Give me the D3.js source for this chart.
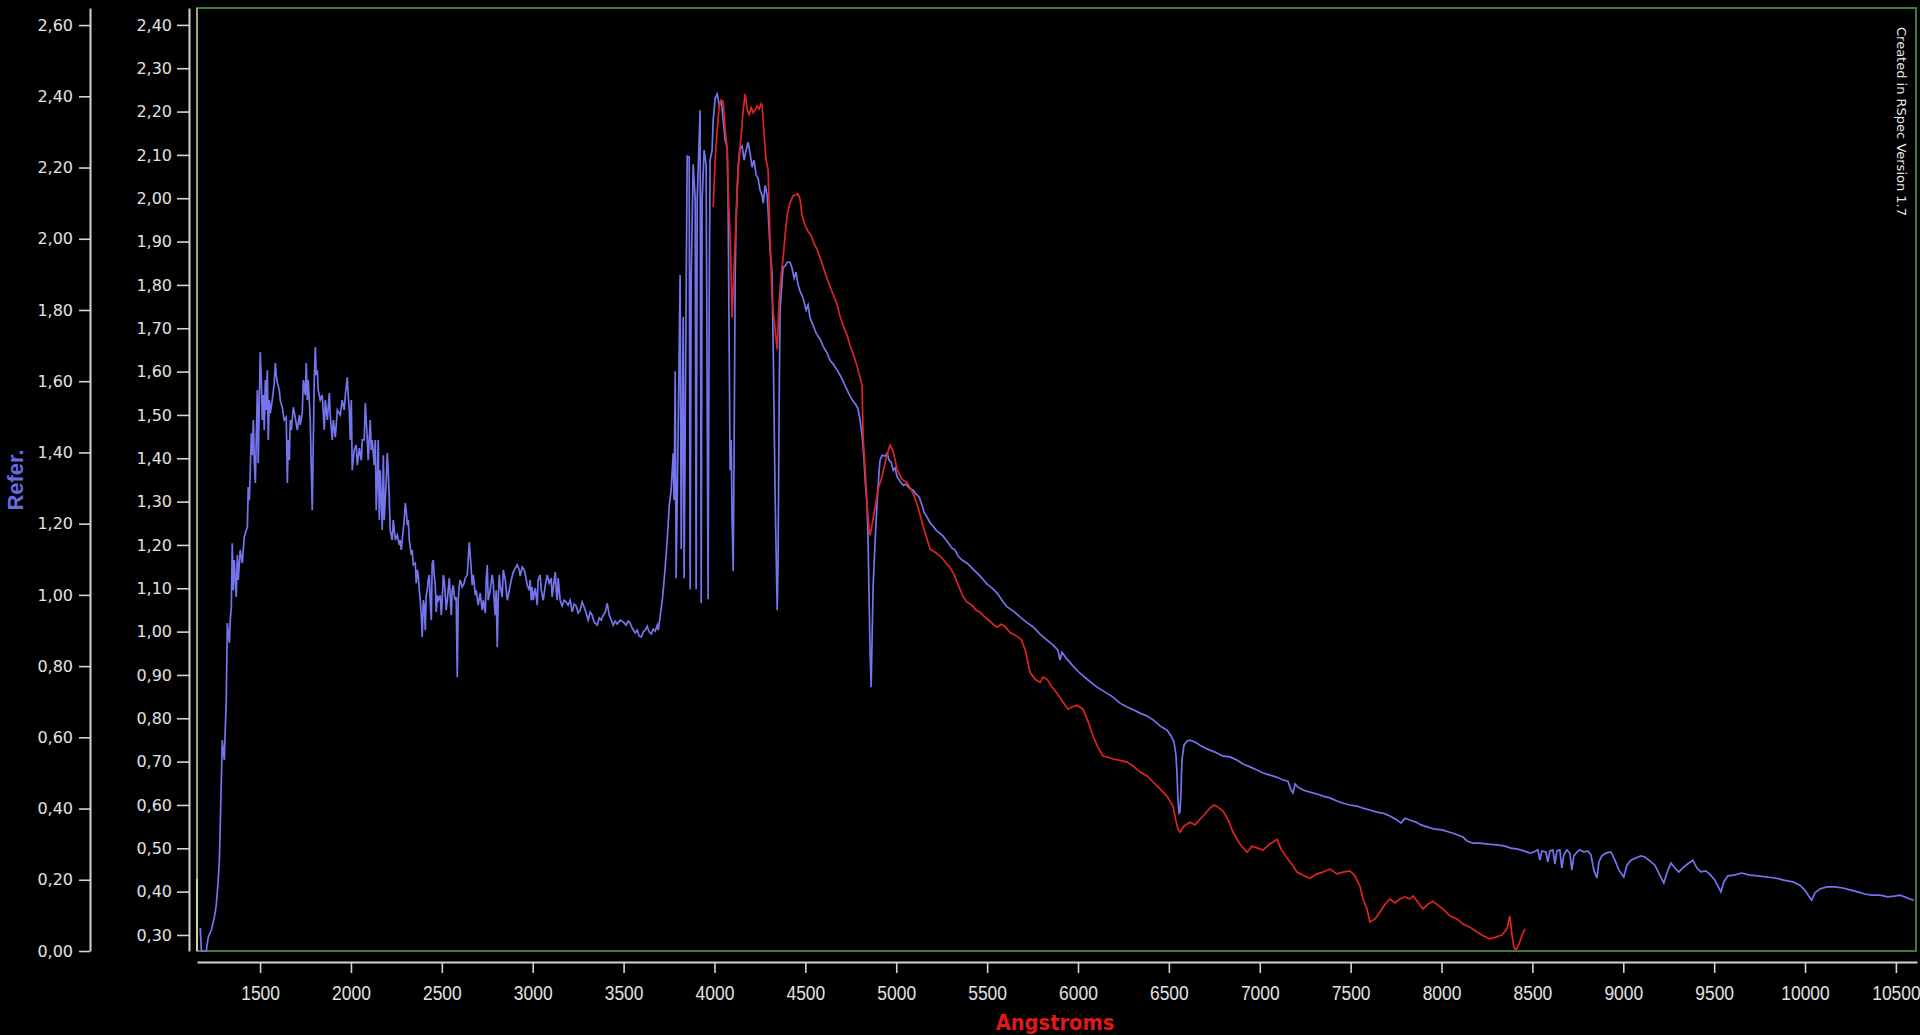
<!DOCTYPE html>
<html>
<head>
<meta charset="utf-8">
<script src="https://cdn.jsdelivr.net/npm/d3@7"></script>
<style>
  html, body { margin: 0; padding: 0; background: #000; overflow: hidden; }
  svg { display: block; }
</style>
</head>
<body>
<svg id="chart" width="1920" height="1035"></svg>
<script>
// reference spectrum (blue, left "Refer." axis): [angstrom, value]
const refSpectrum = [[1171,0.065],[1177,0],[1204,0],[1215,0.039],[1232,0.059],[1248,0.093],[1259,0.129],[1270,0.199],[1276,0.255],[1287,0.480],[1292,0.592],[1303,0.536],[1314,0.705],[1320,0.921],[1331,0.865],[1336,0.929],[1342,0.966],[1347,1.145],[1353,1.013],[1358,1.098],[1369,0.994],[1375,1.112],[1380,1.042],[1391,1.126],[1402,1.089],[1413,1.162],[1424,1.182],[1430,1.190],[1435,1.303],[1441,1.266],[1446,1.350],[1452,1.454],[1457,1.392],[1463,1.491],[1468,1.378],[1474,1.314],[1479,1.435],[1485,1.575],[1490,1.370],[1496,1.547],[1501,1.682],[1507,1.603],[1512,1.491],[1518,1.561],[1523,1.463],[1529,1.603],[1534,1.519],[1540,1.631],[1545,1.435],[1551,1.547],[1556,1.510],[1567,1.547],[1578,1.595],[1584,1.651],[1589,1.617],[1595,1.595],[1606,1.575],[1611,1.547],[1622,1.527],[1633,1.491],[1644,1.499],[1650,1.314],[1655,1.435],[1661,1.378],[1666,1.491],[1672,1.463],[1683,1.527],[1694,1.496],[1705,1.463],[1716,1.505],[1721,1.477],[1732,1.510],[1738,1.603],[1749,1.561],[1754,1.651],[1760,1.547],[1765,1.603],[1776,1.491],[1782,1.350],[1787,1.238],[1793,1.435],[1798,1.603],[1804,1.696],[1809,1.617],[1815,1.631],[1820,1.575],[1831,1.547],[1842,1.561],[1853,1.463],[1859,1.547],[1870,1.491],[1881,1.567],[1886,1.505],[1897,1.435],[1903,1.491],[1914,1.443],[1925,1.519],[1941,1.505],[1952,1.547],[1963,1.519],[1969,1.561],[1980,1.611],[1985,1.561],[1991,1.519],[1996,1.435],[2002,1.547],[2007,1.350],[2018,1.407],[2029,1.421],[2035,1.364],[2046,1.412],[2057,1.378],[2062,1.435],[2073,1.435],[2079,1.539],[2084,1.491],[2090,1.435],[2095,1.378],[2106,1.491],[2112,1.407],[2117,1.435],[2128,1.364],[2134,1.435],[2139,1.238],[2145,1.322],[2150,1.435],[2156,1.210],[2161,1.350],[2167,1.266],[2172,1.182],[2178,1.392],[2183,1.210],[2194,1.322],[2200,1.398],[2205,1.350],[2211,1.266],[2216,1.182],[2227,1.154],[2233,1.210],[2244,1.154],[2255,1.168],[2266,1.140],[2271,1.154],[2277,1.126],[2282,1.154],[2293,1.210],[2299,1.258],[2304,1.238],[2310,1.196],[2315,1.210],[2321,1.154],[2332,1.112],[2337,1.126],[2343,1.084],[2354,1.089],[2359,1.033],[2365,1.070],[2370,1.056],[2376,1.013],[2381,0.985],[2387,0.943],[2392,0.882],[2398,0.985],[2403,0.971],[2409,0.901],[2414,0.999],[2420,1.013],[2425,1.042],[2431,1.056],[2436,0.985],[2442,0.929],[2447,1.089],[2453,1.098],[2458,1.056],[2464,1.027],[2469,0.952],[2475,0.999],[2480,0.985],[2491,0.999],[2497,0.943],[2502,0.985],[2508,1.056],[2513,1.042],[2519,0.999],[2524,0.957],[2530,0.985],[2535,1.013],[2541,1.047],[2546,0.999],[2552,0.943],[2557,1.013],[2563,1.027],[2568,0.999],[2574,0.985],[2579,0.994],[2585,0.769],[2590,0.985],[2596,1.027],[2601,1.042],[2612,1.022],[2623,1.033],[2629,1.047],[2640,1.056],[2645,1.098],[2651,1.148],[2656,1.112],[2662,1.070],[2667,1.027],[2673,1.056],[2678,1.033],[2684,0.999],[2689,1.013],[2700,0.971],[2711,1.005],[2722,0.957],[2728,0.985],[2739,0.949],[2744,1.042],[2750,1.084],[2755,0.985],[2766,1.013],[2777,1.056],[2783,1.033],[2788,0.985],[2794,0.943],[2799,1.013],[2805,0.853],[2810,0.985],[2816,1.056],[2821,1.027],[2832,0.994],[2838,1.070],[2849,1.042],[2860,0.985],[2871,1.013],[2882,1.042],[2893,1.064],[2904,1.075],[2915,1.084],[2926,1.070],[2931,1.053],[2942,1.078],[2953,1.070],[2959,1.058],[2970,1.027],[2981,1.013],[2986,1.042],[2992,0.985],[2997,1.022],[3003,0.985],[3014,1.019],[3025,0.971],[3030,1.042],[3041,1.056],[3047,1.013],[3058,0.985],[3069,1.025],[3080,1.056],[3091,1.033],[3102,1.047],[3107,0.994],[3113,1.019],[3124,1.064],[3129,1.013],[3135,0.985],[3140,1.047],[3151,0.985],[3162,0.969],[3173,0.985],[3184,0.980],[3195,0.971],[3206,0.985],[3217,0.952],[3228,0.974],[3239,0.969],[3250,0.949],[3261,0.957],[3272,0.980],[3283,0.966],[3294,0.949],[3305,0.929],[3316,0.952],[3327,0.943],[3338,0.924],[3355,0.915],[3366,0.935],[3377,0.929],[3388,0.943],[3399,0.952],[3410,0.977],[3421,0.943],[3432,0.929],[3443,0.915],[3454,0.926],[3465,0.918],[3481,0.929],[3498,0.924],[3514,0.915],[3525,0.926],[3536,0.921],[3547,0.907],[3564,0.893],[3575,0.901],[3586,0.884],[3597,0.882],[3608,0.896],[3619,0.901],[3630,0.912],[3641,0.896],[3652,0.890],[3663,0.904],[3674,0.898],[3685,0.915],[3691,0.901],[3702,0.943],[3713,0.985],[3724,1.047],[3729,1.078],[3740,1.154],[3751,1.249],[3762,1.297],[3773,1.398],[3778,1.266],[3784,1.628],[3789,1.047],[3800,1.450],[3811,1.898],[3817,1.129],[3828,1.780],[3833,1.047],[3844,1.828],[3850,2.232],[3861,2.229],[3866,1.016],[3872,1.900],[3883,2.209],[3894,2.108],[3899,1.016],[3905,2.108],[3921,2.361],[3927,0.977],[3932,2.108],[3943,2.249],[3954,2.207],[3965,0.988],[3971,1.828],[3976,2.221],[3987,2.249],[3993,2.333],[4004,2.395],[4015,2.406],[4026,2.375],[4037,2.389],[4048,2.333],[4059,2.277],[4070,2.254],[4075,2.108],[4081,1.687],[4086,1.350],[4092,1.435],[4097,1.210],[4103,1.067],[4108,1.407],[4114,1.901],[4119,2.052],[4130,2.201],[4141,2.254],[4152,2.260],[4163,2.221],[4174,2.249],[4185,2.271],[4196,2.240],[4207,2.201],[4218,2.221],[4229,2.179],[4240,2.170],[4251,2.136],[4262,2.122],[4268,2.100],[4279,2.150],[4290,2.122],[4295,2.080],[4306,1.968],[4317,1.901],[4323,1.698],[4334,1.266],[4345,0.957],[4350,1.098],[4356,1.547],[4361,1.800],[4372,1.884],[4378,1.920],[4389,1.923],[4400,1.934],[4416,1.934],[4427,1.917],[4438,1.889],[4449,1.906],[4460,1.870],[4471,1.853],[4488,1.833],[4504,1.800],[4515,1.814],[4526,1.777],[4543,1.757],[4559,1.735],[4581,1.718],[4598,1.698],[4620,1.679],[4636,1.659],[4653,1.648],[4675,1.631],[4691,1.617],[4708,1.600],[4724,1.581],[4746,1.558],[4763,1.544],[4779,1.533],[4790,1.522],[4801,1.491],[4812,1.449],[4823,1.378],[4829,1.322],[4840,1.249],[4845,1.154],[4851,0.985],[4856,0.845],[4862,0.741],[4867,0.873],[4873,1.025],[4884,1.154],[4895,1.261],[4906,1.350],[4911,1.378],[4922,1.392],[4939,1.390],[4950,1.398],[4961,1.378],[4972,1.373],[4983,1.350],[4994,1.356],[5005,1.331],[5021,1.319],[5038,1.308],[5054,1.311],[5071,1.300],[5093,1.294],[5109,1.283],[5126,1.275],[5142,1.252],[5153,1.232],[5170,1.218],[5186,1.202],[5203,1.193],[5219,1.182],[5241,1.173],[5258,1.165],[5274,1.154],[5291,1.143],[5307,1.131],[5324,1.126],[5340,1.109],[5362,1.098],[5390,1.089],[5417,1.075],[5445,1.061],[5472,1.047],[5500,1.030],[5527,1.019],[5555,1.005],[5582,0.985],[5610,0.966],[5643,0.955],[5681,0.938],[5714,0.924],[5753,0.910],[5791,0.890],[5830,0.873],[5863,0.859],[5890,0.845],[5901,0.817],[5912,0.839],[5934,0.823],[5973,0.800],[6011,0.780],[6055,0.761],[6105,0.741],[6149,0.727],[6193,0.713],[6231,0.696],[6270,0.685],[6308,0.677],[6341,0.668],[6380,0.660],[6413,0.649],[6451,0.632],[6490,0.620],[6512,0.604],[6528,0.587],[6539,0.550],[6545,0.494],[6550,0.424],[6556,0.387],[6561,0.390],[6567,0.452],[6572,0.536],[6583,0.578],[6600,0.590],[6616,0.592],[6644,0.587],[6671,0.578],[6699,0.570],[6726,0.564],[6765,0.556],[6798,0.547],[6836,0.545],[6875,0.536],[6908,0.525],[6946,0.517],[6985,0.508],[7018,0.500],[7056,0.494],[7095,0.488],[7128,0.480],[7155,0.477],[7172,0.452],[7183,0.444],[7194,0.469],[7210,0.460],[7238,0.452],[7276,0.446],[7315,0.441],[7348,0.435],[7386,0.430],[7425,0.421],[7458,0.415],[7496,0.410],[7535,0.407],[7568,0.401],[7606,0.396],[7645,0.390],[7678,0.387],[7716,0.379],[7755,0.368],[7777,0.359],[7799,0.373],[7826,0.368],[7859,0.362],[7887,0.354],[7925,0.348],[7964,0.342],[8002,0.340],[8041,0.334],[8079,0.328],[8118,0.320],[8140,0.309],[8173,0.303],[8211,0.303],[8255,0.300],[8305,0.298],[8343,0.295],[8382,0.289],[8420,0.286],[8453,0.281],[8486,0.275],[8508,0.278],[8530,0.284],[8541,0.255],[8552,0.281],[8574,0.278],[8585,0.250],[8596,0.281],[8613,0.284],[8624,0.244],[8635,0.281],[8651,0.284],[8662,0.233],[8673,0.270],[8690,0.284],[8706,0.275],[8717,0.227],[8728,0.267],[8745,0.278],[8761,0.284],[8783,0.278],[8805,0.281],[8822,0.270],[8838,0.227],[8855,0.205],[8866,0.250],[8882,0.267],[8904,0.275],[8932,0.278],[8954,0.255],[8976,0.227],[9003,0.208],[9020,0.241],[9042,0.255],[9069,0.261],[9097,0.267],[9119,0.264],[9146,0.253],[9174,0.241],[9201,0.213],[9223,0.191],[9240,0.219],[9262,0.247],[9284,0.233],[9306,0.222],[9333,0.236],[9361,0.247],[9383,0.255],[9405,0.233],[9427,0.222],[9454,0.225],[9476,0.216],[9504,0.199],[9526,0.177],[9537,0.166],[9553,0.194],[9575,0.211],[9608,0.213],[9652,0.219],[9696,0.213],[9740,0.211],[9784,0.208],[9834,0.205],[9883,0.199],[9933,0.194],[9971,0.185],[9999,0.171],[10021,0.154],[10037,0.143],[10054,0.163],[10081,0.174],[10120,0.180],[10164,0.180],[10208,0.177],[10252,0.171],[10290,0.166],[10329,0.160],[10367,0.157],[10411,0.157],[10455,0.152],[10494,0.154],[10521,0.157],[10549,0.152],[10576,0.146],[10598,0.143]];

// measured spectrum (red, inner axis): [angstrom, value]
const objSpectrum = [[3993,1.980],[4004,2.089],[4015,2.158],[4026,2.213],[4037,2.227],[4048,2.223],[4059,2.158],[4070,2.114],[4075,2.020],[4086,1.916],[4092,1.812],[4097,1.725],[4103,1.789],[4114,1.904],[4125,2.020],[4136,2.100],[4147,2.144],[4158,2.204],[4169,2.241],[4180,2.204],[4191,2.193],[4202,2.209],[4213,2.197],[4224,2.204],[4235,2.213],[4246,2.206],[4257,2.218],[4262,2.213],[4273,2.146],[4284,2.089],[4295,2.066],[4306,1.904],[4317,1.766],[4328,1.720],[4345,1.651],[4356,1.766],[4367,1.824],[4378,1.863],[4389,1.916],[4400,1.962],[4416,1.990],[4433,2.006],[4449,2.008],[4460,2.010],[4471,1.997],[4482,1.960],[4499,1.937],[4515,1.923],[4532,1.914],[4548,1.895],[4565,1.881],[4581,1.863],[4598,1.842],[4614,1.821],[4636,1.796],[4653,1.778],[4675,1.755],[4691,1.727],[4708,1.706],[4730,1.683],[4746,1.660],[4768,1.635],[4785,1.612],[4801,1.586],[4812,1.568],[4818,1.446],[4829,1.374],[4840,1.291],[4851,1.236],[4856,1.222],[4867,1.247],[4884,1.287],[4900,1.328],[4922,1.358],[4939,1.390],[4955,1.416],[4966,1.430],[4983,1.416],[5005,1.374],[5032,1.351],[5060,1.344],[5093,1.319],[5120,1.287],[5148,1.243],[5170,1.213],[5186,1.190],[5214,1.183],[5241,1.174],[5258,1.167],[5280,1.155],[5296,1.148],[5318,1.132],[5335,1.114],[5351,1.098],[5368,1.081],[5390,1.068],[5417,1.061],[5439,1.049],[5461,1.045],[5489,1.033],[5516,1.024],[5538,1.015],[5555,1.010],[5577,1.017],[5599,1.012],[5626,0.998],[5665,0.989],[5687,0.982],[5709,0.959],[5736,0.906],[5764,0.890],[5791,0.883],[5808,0.895],[5830,0.890],[5857,0.872],[5885,0.858],[5918,0.837],[5945,0.821],[5967,0.826],[5995,0.830],[6028,0.821],[6055,0.793],[6083,0.759],[6110,0.733],[6138,0.713],[6165,0.710],[6193,0.706],[6231,0.703],[6270,0.699],[6303,0.690],[6341,0.676],[6380,0.667],[6413,0.653],[6451,0.637],[6490,0.620],[6523,0.597],[6539,0.563],[6550,0.544],[6561,0.537],[6583,0.551],[6616,0.560],[6644,0.554],[6671,0.567],[6699,0.579],[6726,0.593],[6748,0.600],[6770,0.595],[6798,0.586],[6825,0.567],[6853,0.537],[6891,0.510],[6930,0.491],[6957,0.505],[6985,0.501],[7018,0.496],[7056,0.510],[7095,0.521],[7117,0.498],[7155,0.475],[7183,0.459],[7205,0.445],[7238,0.438],[7276,0.431],[7315,0.441],[7348,0.445],[7386,0.452],[7425,0.441],[7458,0.445],[7496,0.448],[7524,0.436],[7551,0.413],[7568,0.383],[7590,0.360],[7606,0.330],[7634,0.337],[7661,0.353],[7689,0.371],[7716,0.383],[7744,0.374],[7771,0.383],[7799,0.388],[7826,0.383],[7843,0.390],[7870,0.376],[7898,0.360],[7925,0.371],[7953,0.378],[7980,0.369],[8008,0.360],[8046,0.344],[8085,0.337],[8118,0.325],[8156,0.318],[8195,0.307],[8228,0.298],[8266,0.291],[8299,0.295],[8332,0.300],[8360,0.314],[8376,0.344],[8387,0.302],[8398,0.272],[8409,0.265],[8426,0.279],[8442,0.298],[8459,0.314]];

const xTicks = [1500, 2000, 2500, 3000, 3500, 4000, 4500, 5000, 5500, 6000, 6500, 7000, 7500, 8000, 8500, 9000, 9500, 10000, 10500];
const refTicks = [0, 0.2, 0.4, 0.6, 0.8, 1.0, 1.2, 1.4, 1.6, 1.8, 2.0, 2.2, 2.4, 2.6];
const objTicks = [0.3, 0.4, 0.5, 0.6, 0.7, 0.8, 0.9, 1.0, 1.1, 1.2, 1.3, 1.4, 1.5, 1.6, 1.7, 1.8, 1.9, 2.0, 2.1, 2.2, 2.3, 2.4];

const xTitle = 'Angstroms';
const refTitle = 'Refer.';
const stamp = 'Created in RSpec Version 1.7';

const svg = d3.select('#chart');
const plot = {left: 197, right: 1916, top: 8, bottom: 951};

const x = d3.scaleLinear().domain([1153, 10616]).range([plot.left, 1917]);
const yRef = d3.scaleLinear().domain([0, 2.648]).range([plot.bottom, plot.top]);
const yObj = d3.scaleLinear().domain([0.263, 2.439]).range([plot.bottom, plot.top]);

const fmt = d => d.toFixed(2).replace('.', ',');

svg.append('rect').attr('width', 1920).attr('height', 1035).attr('fill', '#000');

// plot frame
svg.append('rect')
  .attr('x', plot.left).attr('y', plot.top)
  .attr('width', plot.right - plot.left).attr('height', plot.bottom - plot.top)
  .attr('fill', 'none')
  .attr('stroke', '#3f7a3a')
  .attr('stroke-width', 2);
svg.append('line')
  .attr('x1', plot.left).attr('x2', plot.left)
  .attr('y1', plot.top).attr('y2', plot.bottom)
  .attr('stroke', '#aaa26a')
  .attr('stroke-width', 2);
svg.append('line')
  .attr('x1', plot.left).attr('x2', plot.left)
  .attr('y1', 879).attr('y2', plot.bottom)
  .attr('stroke', '#d8d090')
  .attr('stroke-width', 2);

function styleAxis(g) {
  g.select('.domain').attr('stroke', '#d4d4d4').attr('stroke-width', 2);
  g.selectAll('.tick line').attr('stroke', '#d4d4d4').attr('stroke-width', 1.6);
  g.selectAll('.tick text').attr('fill', '#e2e2e2');
}

// outer axis (reference)
svg.append('g')
  .attr('transform', 'translate(90,0)')
  .call(d3.axisLeft(yRef).tickValues(refTicks).tickFormat(fmt).tickSize(11).tickPadding(6).tickSizeOuter(0))
  .call(styleAxis)
  .selectAll('text')
  .attr('font-family', 'DejaVu Sans, sans-serif')
  .attr('font-size', 16);

// inner axis (spectrum)
svg.append('g')
  .attr('transform', 'translate(189,0)')
  .call(d3.axisLeft(yObj).tickValues(objTicks).tickFormat(fmt).tickSize(12).tickPadding(5).tickSizeOuter(0))
  .call(styleAxis)
  .selectAll('text')
  .attr('font-family', 'DejaVu Sans, sans-serif')
  .attr('font-size', 16);

// wavelength axis, labels squeezed to the narrow face of the original
svg.append('g')
  .attr('transform', 'translate(0,962)')
  .call(d3.axisBottom(x).tickValues(xTicks).tickFormat(d3.format('d')).tickSize(11).tickPadding(12).tickSizeOuter(0))
  .call(styleAxis)
  .selectAll('text')
  .attr('font-family', 'Liberation Sans, Arial, sans-serif')
  .attr('font-size', 21)
  .attr('transform', 'scale(0.83,1)');

const refLine = d3.line()
  .x(d => x(d[0]))
  .y(d => yRef(d[1]));

const objLine = d3.line()
  .x(d => x(d[0]))
  .y(d => yObj(d[1]));

svg.append('path')
  .datum(refSpectrum)
  .attr('d', refLine)
  .attr('fill', 'none')
  .attr('stroke', '#7474ec')
  .attr('stroke-width', 1.7);

svg.append('path')
  .datum(objSpectrum)
  .attr('d', objLine)
  .attr('fill', 'none')
  .attr('stroke', '#dc2424')
  .attr('stroke-width', 1.7);

// titles
svg.append('text')
  .attr('transform', 'translate(1055,1030) scale(1,1.12)')
  .attr('text-anchor', 'middle')
  .attr('font-family', 'DejaVu Sans, sans-serif')
  .attr('font-weight', 'bold')
  .attr('font-size', 19.5)
  .attr('fill', '#e01818')
  .text(xTitle);

svg.append('text')
  .attr('transform', 'translate(23,480) rotate(-90)')
  .attr('text-anchor', 'middle')
  .attr('font-family', 'Liberation Sans, Arial, sans-serif')
  .attr('font-weight', 'bold')
  .attr('font-size', 22)
  .attr('fill', '#6a6ae0')
  .text(refTitle);

svg.append('text')
  .attr('transform', 'translate(1897,27) rotate(90)')
  .attr('font-family', 'DejaVu Sans, sans-serif')
  .attr('font-size', 13)
  .attr('fill', '#e8e8e8')
  .text(stamp);
</script>
</body>
</html>
